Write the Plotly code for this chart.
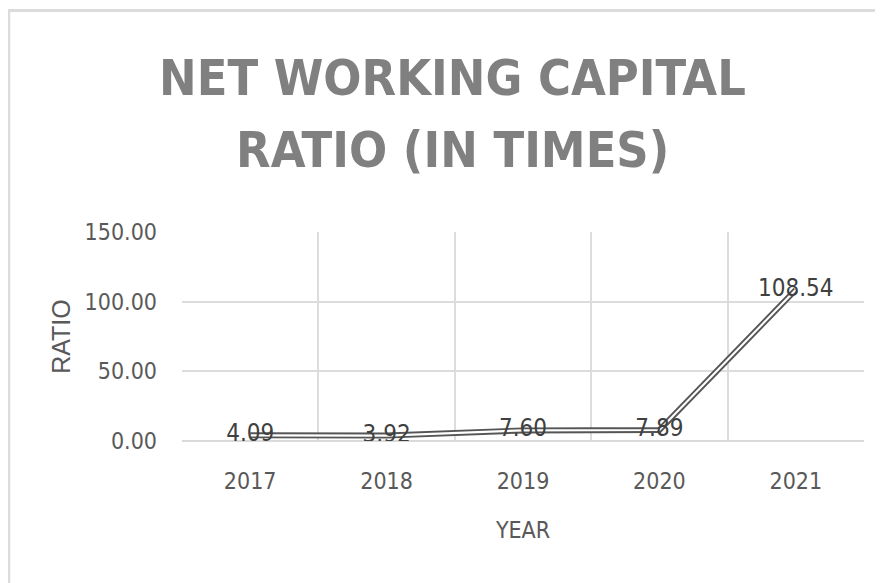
import plotly.graph_objects as go

years = [2017, 2018, 2019, 2020, 2021]
ratio = [4.09, 3.92, 7.60, 7.89, 108.54]
labels = ["4.09", "3.92", "7.60", "7.89", "108.54"]
y_ticks = [0, 50, 100, 150]
y_tick_text = ["0.00", "50.00", "100.00", "150.00"]
title_lines = ["NET WORKING CAPITAL", "RATIO (IN TIMES)"]

FONT = "Liberation Sans Narrow, DejaVu Sans Condensed, Arial Narrow, sans-serif"

fig = go.Figure()
# compound (double) line: dark outer stroke + white inner stroke
fig.add_trace(go.Scatter(x=years, y=ratio, mode="lines",
                         line=dict(color="#555555", width=6),
                         hoverinfo="skip", showlegend=False))
fig.add_trace(go.Scatter(x=years, y=ratio, mode="lines+text",
                         line=dict(color="white", width=2.2),
                         text=labels, textposition="middle center",
                         textfont=dict(family=FONT, size=24, color="#404040"),
                         showlegend=False))

# figure is offset by the 8px page margin
W, H = 875, 575
L, R, T, B = 174, 19, 224, 142
pw, ph = W - L - R, H - T - B

def px_x(x):
    return (x - L) / pw

def px_y(y):
    return 1 + (T - y) / ph

fig.update_layout(
    width=W, height=H,
    margin=dict(l=L, r=R, t=T, b=B),
    paper_bgcolor="white", plot_bgcolor="white",
    font=dict(family=FONT, color="#595959"),
    xaxis=dict(range=[2016.5, 2021.5], tickmode="array", tickvals=years,
               ticktext=[str(y) for y in years], showgrid=False, zeroline=False,
               showline=False, ticks="", ticklabelstandoff=24,
               tickfont=dict(size=23, color="#595959"),
               minor=dict(tick0=2016.5, dtick=1, showgrid=True,
                          gridcolor="#dcdcdc", gridwidth=1.6),
               title=dict(text="YEAR", font=dict(size=23, color="#595959"), standoff=28)),
    yaxis=dict(range=[0, 150], tickmode="array", tickvals=y_ticks, ticktext=y_tick_text,
               showgrid=True, gridcolor="#dcdcdc", gridwidth=1.6,
               zeroline=True, zerolinecolor="#d9d9d9", zerolinewidth=1.6,
               showline=False, ticks="", ticklabelstandoff=24,
               tickfont=dict(size=23, color="#595959"),
               title=dict(text="RATIO", font=dict(family="Liberation Sans, Arial, sans-serif",
                                                  size=25, color="#595959"), standoff=6)),
    annotations=[dict(text=t, xref="paper", yref="paper",
                      x=px_x(444), y=px_y(yc),
                      xanchor="center", yanchor="middle", showarrow=False,
                      font=dict(family=FONT, size=50, color="#808080", weight="bold"))
                 for t, yc in zip(title_lines, [70, 142])],
    shapes=[dict(type="line", xref="paper", yref="paper",
                 x0=px_x(0), x1=px_x(W), y0=px_y(2.5), y1=px_y(2.5),
                 line=dict(color="#dcdcdc", width=3)),
            dict(type="line", xref="paper", yref="paper",
                 x0=px_x(1), x1=px_x(1), y0=px_y(1), y1=px_y(H),
                 line=dict(color="#dcdcdc", width=2.5))],
)

fig.write_html("out.html")
